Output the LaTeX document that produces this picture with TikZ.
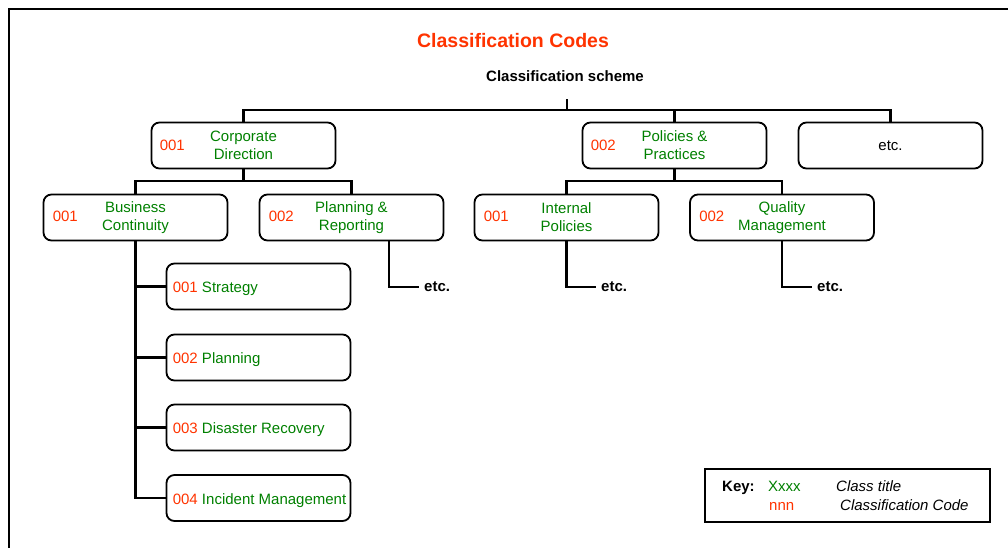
\documentclass[tikz,border=0pt]{standalone}
\usepackage{fontspec}
\setmainfont{Liberation Sans}
\usetikzlibrary{calc}
\definecolor{codered}{RGB}{255,51,0}
\definecolor{classgreen}{RGB}{0,128,0}

\begin{document}
\begin{tikzpicture}[x=1pt, y=-1pt,
    box/.style = {draw, line width=1.8pt, rounded corners=8pt, minimum width=184pt,
                  minimum height=46pt, inner sep=0pt, align=center, text=classgreen,
                  font=\fontsize{15}{18}\selectfont},
    code/.style = {anchor=west, inner sep=0pt, text=codered, font=\fontsize{15}{18}\selectfont},
    leaf/.style = {anchor=base west, inner sep=0pt, text=classgreen, font=\fontsize{15}{18}\selectfont},
    etcnode/.style = {anchor=west, inner sep=5pt, font=\fontsize{15}{18}\selectfont\bfseries},
    conn/.style = {line width=2.6pt},
    keytext/.style = {anchor=base west, inner sep=0pt, font=\fontsize{15}{18}\selectfont}]

    % Page and frame
    \useasboundingbox (0,0) rectangle (1008,547);
    \draw[line width=2pt] (9,560) -- (9,9) -- (1020,9);

    % Titles
    \node[text=codered, font=\fontsize{19.5}{22}\selectfont\bfseries] (title) at (513,41) {Classification Codes};
    \node[font=\fontsize{15}{18}\selectfont\bfseries] (scheme) at (565,76) {Classification scheme};
    \coordinate (top) at (567,99);
    \coordinate (busA) at (0,110); % top bus
    \coordinate (busB) at (0,181); % second bus

    % Level 1
    \node[box] (corp) at (243.5,145.5) {Corporate\\Direction};
    \node[code] (corpCode) at ($(corp.west)+(9,0)$) {001};
    \node[box] (pol) at (674.5,145.5) {Policies \&\\Practices};
    \node[code] (polCode) at ($(pol.west)+(9,0)$) {002};
    \node[box, text=black] (etcA) at (890.5,145.5) {etc.};

    % Level 2
    \node[box] (bc) at (135.5,217.5) {Business\\Continuity};
    \node[code] (bcCode) at ($(bc.west)+(10,-1)$) {001};
    \node[box] (pr) at (351.5,217.5) {Planning \&\\Reporting};
    \node[code] (prCode) at ($(pr.west)+(10,-1)$) {002};
    \node[box] (ip) at (566.5,217.5) {Internal\\Policies};
    \node[code] (ipCode) at ($(ip.west)+(10,-1)$) {001};
    \node[box] (qm) at (782,217.5) {Quality\\Management};
    \node[code] (qmCode) at ($(qm.west)+(10,-1)$) {002};

    % Level 3 under Business Continuity
    \node[box] (strat) at (258.5,286.5) {};
    \node[leaf] (stratTxt) at ($(strat.west)+(7,6)$) {\textcolor{codered}{001} Strategy};
    \node[box] (plan) at (258.5,357.5) {};
    \node[leaf] (planTxt) at ($(plan.west)+(7,6)$) {\textcolor{codered}{002} Planning};
    \node[box] (dr) at (258.5,427.5) {};
    \node[leaf] (drTxt) at ($(dr.west)+(7,6)$) {\textcolor{codered}{003} Disaster Recovery};
    \node[box] (im) at (258.5,498) {};
    \node[leaf] (imTxt) at ($(im.west)+(7,6)$) {\textcolor{codered}{004} Incident Management};

    % etc. leaves
    \node[etcnode] (prEtc) at (419,287) {etc.};
    \node[etcnode] (ipEtc) at (596,287) {etc.};
    \node[etcnode] (qmEtc) at (812,287) {etc.};

    % Connectors
    \draw[conn] (top) -- (top |- busA);
    \draw[conn] (corp.north) |- (busA -| etcA.north) -- (etcA.north);
    \draw[conn] (pol.north) -- (pol.north |- busA);
    \draw[conn] (corp.south) -- (corp.south |- busB);
    \draw[conn] (bc.north) |- (busB -| pr.north) -- (pr.north);
    \draw[conn] (pol.south) -- (pol.south |- busB);
    \draw[conn] (ip.north) |- (busB -| qm.north) -- (qm.north);
    \draw[conn] (bc.south) |- (im.west);
    \foreach \n in {strat,plan,dr}
        \draw[conn] (bc.south |- \n.west) -- (\n.west);
    \draw[conn] ($(pr.south)+(37.5,0)$) |- (prEtc.west);
    \draw[conn] (ip.south) |- (ipEtc.west);
    \draw[conn] (qm.south) |- (qmEtc.west);

    % Key
    \node[draw, line width=2pt, minimum width=285pt, minimum height=53pt] (key) at (847,495) {};
    \node[keytext, font=\fontsize{15}{18}\selectfont\bfseries] (keyLbl) at (722,491) {Key:};
    \node[keytext, text=classgreen] (keyX) at (768,491) {Xxxx};
    \node[keytext, font=\fontsize{15}{18}\selectfont\itshape] (keyTitle) at (836,491) {Class title};
    \node[keytext, text=codered] (keyN) at (769,510) {nnn};
    \node[keytext, font=\fontsize{15}{18}\selectfont\itshape] (keyCode) at (840,510) {Classification Code};
\end{tikzpicture}
\end{document}
